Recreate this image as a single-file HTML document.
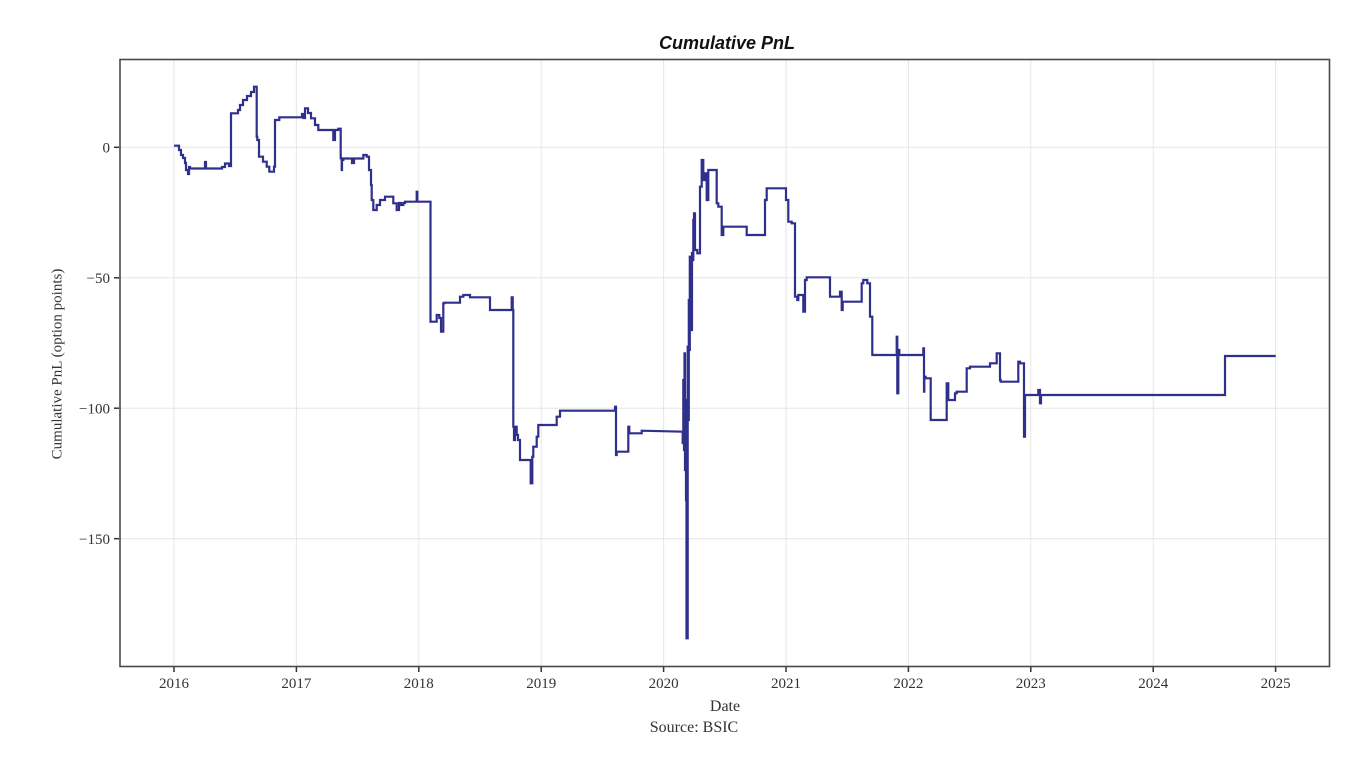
<!DOCTYPE html>
<html>
<head>
<meta charset="utf-8">
<style>
  html, body { margin:0; padding:0; background:#ffffff; }
  svg { display:block; }
</style>
</head>
<body>
<svg width="1370" height="758" viewBox="0 0 1370 758" xmlns="http://www.w3.org/2000/svg">
  <rect x="0" y="0" width="1370" height="758" fill="#ffffff"/>

  <!-- gridlines -->
  <g stroke="#e6e6e6" stroke-width="1">
    <line x1="174" y1="60" x2="174" y2="666"/>
    <line x1="296.4" y1="60" x2="296.4" y2="666"/>
    <line x1="418.8" y1="60" x2="418.8" y2="666"/>
    <line x1="541.2" y1="60" x2="541.2" y2="666"/>
    <line x1="663.6" y1="60" x2="663.6" y2="666"/>
    <line x1="786" y1="60" x2="786" y2="666"/>
    <line x1="908.4" y1="60" x2="908.4" y2="666"/>
    <line x1="1030.8" y1="60" x2="1030.8" y2="666"/>
    <line x1="1153.2" y1="60" x2="1153.2" y2="666"/>
    <line x1="1275.6" y1="60" x2="1275.6" y2="666"/>
    <line x1="120" y1="147.3" x2="1329" y2="147.3"/>
    <line x1="120" y1="277.8" x2="1329" y2="277.8"/>
    <line x1="120" y1="408.2" x2="1329" y2="408.2"/>
    <line x1="120" y1="538.7" x2="1329" y2="538.7"/>
  </g>

  <!-- series (stepped) -->
  <polyline fill="none" stroke="#2f2f8c" stroke-width="2.2" stroke-linejoin="miter" points="
174,145.7 179,145.7 179,150 181,150 181,155 183,155 183,158 185,158 185,163 186,163 186,170 188,170 188,174 189,174 189,167 190,167 190,168.5 205,168.5 205,162 206,162 206,168.5 222,168.5 222,167 225,167 225,163.5 229,163.5 229,166 231,166 231,113.3 238,113.3 238,110 240,110 240,105 243,105 243,100 247,100 247,96 251,96 251,92 254,92 254,86.7 256.7,86.7 256.7,136.7 257.3,136.7 257.3,140 259,140 259,156.7 263,156.7 263,161.7 266.7,161.7 266.7,166.7 269.3,166.7 269.3,171.7 274,171.7 274,166.7 275,166.7 275,120 279.3,120 279.3,117.3 302,117.3 302,114 303.5,114 303.5,118 305,118 305,108.3 308,108.3 308,113 311,113 311,118.3 315,118.3 315,125 318.3,125 318.3,130 333.3,130 333.3,140 335,140 335,130 338.3,130 338.3,128.7 340.7,128.7 340.7,158.3 341.7,158.3 341.7,170 342,170 342,160 343.3,160 343.3,158.5 352,158.5 352,163 354,163 354,158.5 363.3,158.5 363.3,155 366.7,155 366.7,156.7 369,156.7 369,170 371,170 371,185 371.7,185 371.7,200 373.3,200 373.3,210 376.7,210 376.7,205 380,205 380,200 385,200 385,196.7 393.3,196.7 393.3,203.3 396.7,203.3 396.7,210 399,210 399,203 401,203 401,205 403.3,205 403.3,203 405,203 405,201.7 416.7,201.7 416.7,191.7 417.3,191.7 417.3,201.7 430.5,201.7 430.5,321.7 436.7,321.7 436.7,315 439.3,315 439.3,318 441,318 441,331.7 443.3,331.7 443.3,303.3 444.3,303.3 444.3,302.7 460,302.7 460,296.7 463.3,296.7 463.3,295 470,295 470,297.3 490,297.3 490,310 511.7,310 511.7,297.3 512.7,297.3 512.7,310 513.3,310 513.3,426.7 514,426.7 514,440 515,440 515,426.7 516.7,426.7 516.7,435 518,435 518,440 520,440 520,460 530.7,460 530.7,483.3 532.3,483.3 532.3,456.7 533.3,456.7 533.3,446.7 536.7,446.7 536.7,436.7 538.3,436.7 538.3,425 556.7,425 556.7,416.7 560,416.7 560,410.7 615,410.7 615,406.7 616,406.7 616,455 616.7,455 616.7,451.7 628.3,451.7 628.3,426.7 629.3,426.7 629.3,433.3 641.7,433.3 641.7,430.7 682.7,431.7 682.7,443 683.3,443 683.3,380 684,380 684,450 684.5,450 684.5,353.3 685,353.3 685,470 685.5,470 685.5,400 686,400 686,500 686.5,500 686.5,638.3 687.7,638.3 687.7,346.7 688.3,346.7 688.3,420 688.8,420 688.8,300 689.3,300 689.3,350 689.8,350 689.8,256.7 690.3,256.7 690.3,300 691,300 691,260 691.5,260 691.5,330 692,330 692,253 692.5,253 692.5,260 693.3,260 693.3,220 694,220 694,213.3 695,213.3 695,250 697.3,250 697.3,253.3 700,253.3 700,186.7 701.7,186.7 701.7,160 703.3,160 703.3,180 705,180 705,173.3 706.7,173.3 706.7,200 708.3,200 708.3,170 716.7,170 716.7,203.3 718.3,203.3 718.3,206.7 721.7,206.7 721.7,235 723.3,235 723.3,226.7 746.7,226.7 746.7,235 765,235 765,200 766.7,200 766.7,188.3 786,188.3 786,200 788.3,200 788.3,221.7 791.7,221.7 791.7,223.3 795,223.3 795,296.7 797.3,296.7 797.3,300 798.3,300 798.3,295 803.3,295 803.3,311.7 805,311.7 805,280 806.7,280 806.7,277.3 830,277.3 830,296.7 840,296.7 840,291.7 841.7,291.7 841.7,310 842.7,310 842.7,301.7 861.7,301.7 861.7,283.3 863.3,283.3 863.3,280 867.3,280 867.3,283.3 870,283.3 870,316.7 872.3,316.7 872.3,355 896.7,355 896.7,336.7 897.3,336.7 897.3,393.3 898.3,393.3 898.3,350 899.3,350 899.3,355 923.3,355 923.3,348.3 924,348.3 924,391.7 924.3,391.7 924.3,376.7 925.7,376.7 925.7,378.3 930.7,378.3 930.7,420 946.7,420 946.7,383.3 948.3,383.3 948.3,400 955,400 955,393.3 956.7,393.3 956.7,391.7 966.7,391.7 966.7,368.3 970,368.3 970,366.7 990,366.7 990,363.3 996.7,363.3 996.7,353.3 1000,353.3 1000,380 1000.7,380 1000.7,381.7 1018.3,381.7 1018.3,361.7 1020,361.7 1020,363.3 1024,363.3 1024,436.7 1025,436.7 1025,395 1038.3,395 1038.3,390 1040,390 1040,403.3 1041,403.3 1041,395 1225,395 1225,356 1275.7,356"/>

  <!-- frame -->
  <rect x="120" y="59.5" width="1209.5" height="607" fill="none" stroke="#4a4a4a" stroke-width="1.6"/>

  <!-- ticks -->
  <g stroke="#333" stroke-width="1.5">
    <line x1="174" y1="667" x2="174" y2="672"/>
    <line x1="296.4" y1="667" x2="296.4" y2="672"/>
    <line x1="418.8" y1="667" x2="418.8" y2="672"/>
    <line x1="541.2" y1="667" x2="541.2" y2="672"/>
    <line x1="663.6" y1="667" x2="663.6" y2="672"/>
    <line x1="786" y1="667" x2="786" y2="672"/>
    <line x1="908.4" y1="667" x2="908.4" y2="672"/>
    <line x1="1030.8" y1="667" x2="1030.8" y2="672"/>
    <line x1="1153.2" y1="667" x2="1153.2" y2="672"/>
    <line x1="1275.6" y1="667" x2="1275.6" y2="672"/>
    <line x1="114" y1="147.3" x2="119" y2="147.3"/>
    <line x1="114" y1="277.8" x2="119" y2="277.8"/>
    <line x1="114" y1="408.2" x2="119" y2="408.2"/>
    <line x1="114" y1="538.7" x2="119" y2="538.7"/>
  </g>

  <!-- x tick labels -->
  <g font-family="'Liberation Serif', serif" font-size="15" fill="#333" text-anchor="middle">
    <text x="174" y="688">2016</text>
    <text x="296.4" y="688">2017</text>
    <text x="418.8" y="688">2018</text>
    <text x="541.2" y="688">2019</text>
    <text x="663.6" y="688">2020</text>
    <text x="786" y="688">2021</text>
    <text x="908.4" y="688">2022</text>
    <text x="1030.8" y="688">2023</text>
    <text x="1153.2" y="688">2024</text>
    <text x="1275.6" y="688">2025</text>
  </g>

  <!-- y tick labels -->
  <g font-family="'Liberation Serif', serif" font-size="15" fill="#333" text-anchor="end">
    <text x="110" y="152.5">0</text>
    <text x="110" y="283">−50</text>
    <text x="110" y="413.4">−100</text>
    <text x="110" y="543.9">−150</text>
  </g>

  <!-- axis titles -->
  <text x="58" y="364" font-family="'Liberation Serif', serif" font-size="15" fill="#333" text-anchor="middle" transform="rotate(-90 58 364)" dominant-baseline="middle">Cumulative PnL (option points)</text>
  <text x="725" y="711" font-family="'Liberation Serif', serif" font-size="16" fill="#333" text-anchor="middle">Date</text>
  <text x="694" y="732" font-family="'Liberation Serif', serif" font-size="16" fill="#333" text-anchor="middle">Source: BSIC</text>

  <!-- title -->
  <text x="727" y="49" font-family="'Liberation Sans', sans-serif" font-size="18" font-weight="bold" font-style="italic" fill="#111" text-anchor="middle">Cumulative PnL</text>
</svg>
</body>
</html>
